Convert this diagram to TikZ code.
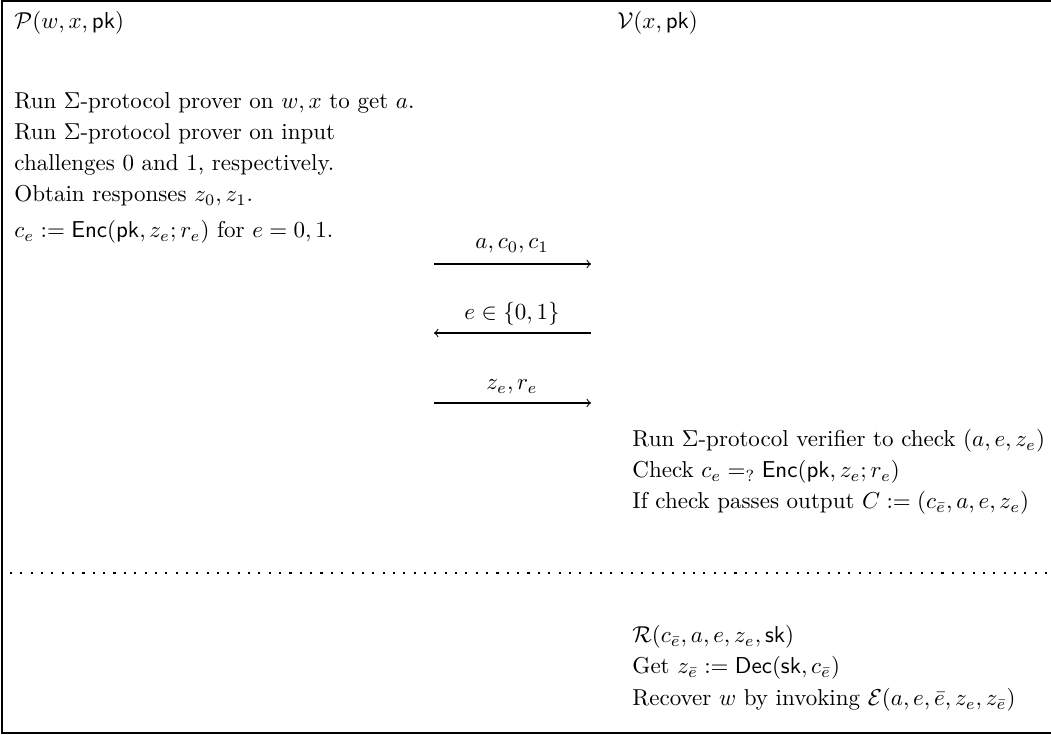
\documentclass[tikz,border=0pt]{standalone}
\usepackage{amsmath,amssymb}
\newcommand{\pk}{\mathsf{pk}}
\newcommand{\sk}{\mathsf{sk}}
\newcommand{\Enc}{\mathsf{Enc}}
\newcommand{\Dec}{\mathsf{Dec}}
\begin{document}
\begin{tikzpicture}[x=0.4348pt,y=-0.4348pt,
  txt/.style={anchor=base west, inner sep=0pt},
  lbl/.style={anchor=base, inner sep=0pt},
  msg/.style={line width=0.45pt, ->},
  frame/.style={line width=0.45pt}]
\useasboundingbox (0,0) rectangle (1051,735);
\draw[frame] (1051,1) -- (2,1) -- (2,733) -- (1051,733);
% headers
\node[txt] (P) at (14,29) {$\mathcal{P}(w,x,\pk)$};
\node[txt] (V) at (617,29) {$\mathcal{V}(x,\pk)$};
% prover
\node[txt] (p1) at (14,109) {Run $\Sigma$-protocol prover on $w,x$ to get $a$.};
\node[txt] (p2) at (14,140) {Run $\Sigma$-protocol prover on input};
\node[txt] (p3) at (14,171) {challenges 0 and 1, respectively.};
\node[txt] (p4) at (14,202) {Obtain responses $z_0,z_1$.};
\node[txt] (p5) at (14,238) {$c_e := \Enc(\pk,z_e;r_e)$ for $e=0,1$.};
% messages
\coordinate (m1s) at (434,264); \coordinate (m1e) at (591,264);
\coordinate (m2s) at (591,333); \coordinate (m2e) at (434,333);
\coordinate (m3s) at (434,403); \coordinate (m3e) at (591,403);
\draw[msg] (m1s) -- (m1e);
\draw[msg] (m2s) -- (m2e);
\draw[msg] (m3s) -- (m3e);
\node[lbl] (l1) at (512,249) {$a,c_0,c_1$};
\node[lbl] (l2) at (512,320) {$e\in\{0,1\}$};
\node[lbl] (l3) at (512,390) {$z_e,r_e$};
% verifier
\node[txt] (v1) at (632,447) {Run $\Sigma$-protocol verifier to check $(a,e,z_e)$};
\node[txt] (v2) at (632,478) {Check $c_e =_? \Enc(\pk,z_e;r_e)$};
\node[txt] (v3) at (632,509) {If check passes output $C:=(c_{\bar e},a,e,z_e)$};
% separator
\draw[line width=0.9pt, dash pattern=on 0.9pt off 3.6pt] (10,573) -- (1051,573);
% recovery
\node[txt] (r1) at (632,643) {$\mathcal{R}(c_{\bar e},a,e,z_e,\sk)$};
\node[txt] (r2) at (632,674) {Get $z_{\bar e}:=\Dec(\sk,c_{\bar e})$};
\node[txt] (r3) at (632,706) {Recover $w$ by invoking $\mathcal{E}(a,e,\bar e,z_e,z_{\bar e})$};
\end{tikzpicture}
\end{document}
